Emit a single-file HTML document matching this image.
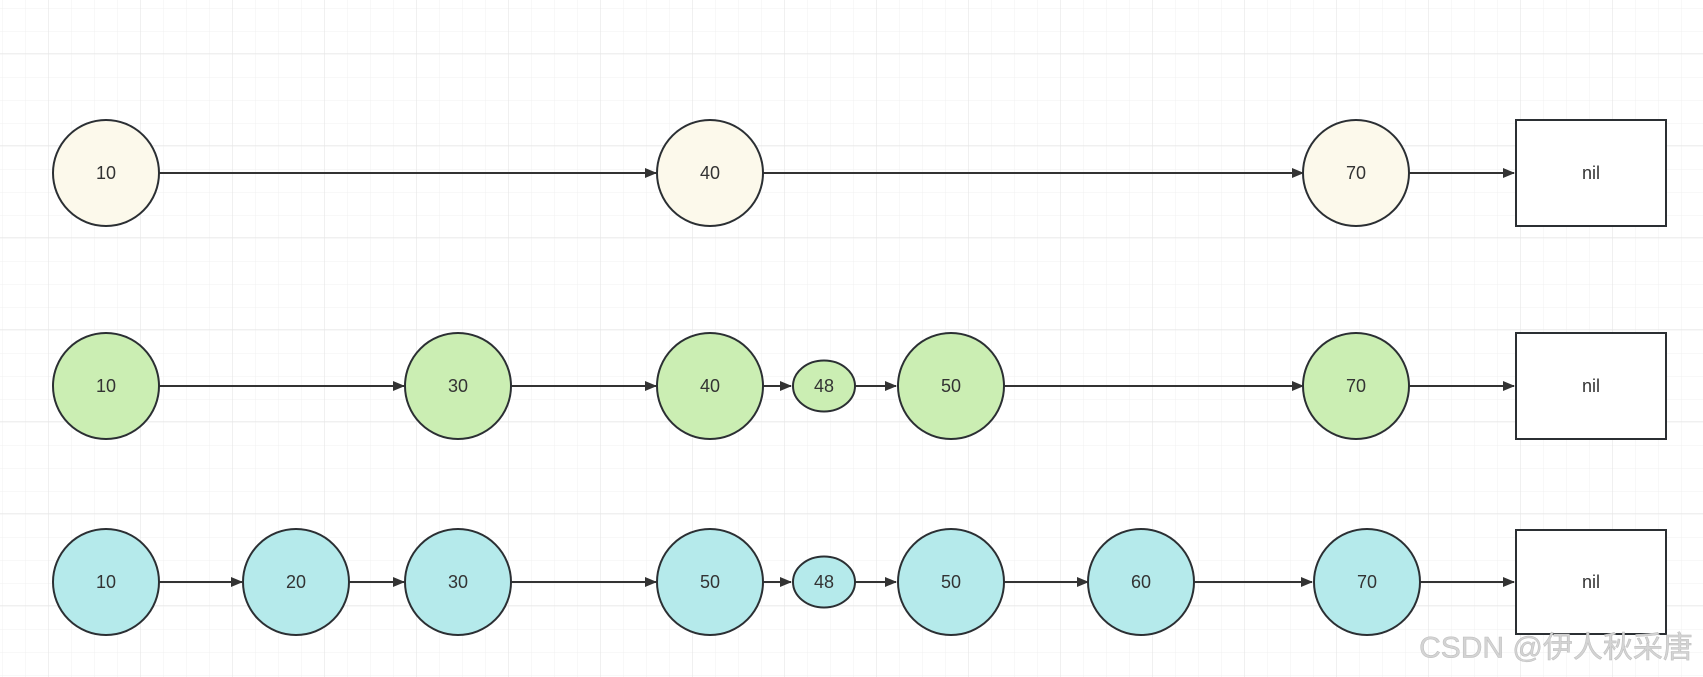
<!DOCTYPE html>
<html><head><meta charset="utf-8"><style>
html,body{margin:0;padding:0;background:#fff}
svg{display:block}
text{font-family:"Liberation Sans","Noto Sans CJK SC",sans-serif;font-size:18px;fill:#333;text-anchor:middle;dominant-baseline:central}
</style></head><body>
<svg width="1703" height="677" viewBox="0 0 1703 677" xmlns="http://www.w3.org/2000/svg">
<defs>
<pattern id="g" x="2" y="8" width="23" height="23" patternUnits="userSpaceOnUse">
<path d="M0 0H23M0 0V23" stroke="#f0f0f0" stroke-width="1" fill="none"/>
</pattern>
<pattern id="G" x="48" y="53" width="92" height="92" patternUnits="userSpaceOnUse">
<path d="M0 0H92M0 0V92" stroke="#e6e6e6" stroke-width="1.2" fill="none"/>
</pattern>
<marker id="a" markerWidth="12" markerHeight="10" refX="11" refY="5" orient="auto" markerUnits="userSpaceOnUse">
<path d="M0 0L12 5L0 10Z" fill="#333"/>
</marker>
</defs>
<rect width="1703" height="677" fill="url(#g)"/>
<rect width="1703" height="677" fill="url(#G)"/>
<g stroke="#333" stroke-width="2" fill="none" marker-end="url(#a)">
<!-- row1 -->
<line x1="159" y1="173" x2="656" y2="173"/>
<line x1="763" y1="173" x2="1303" y2="173"/>
<line x1="1409" y1="173" x2="1514" y2="173"/>
<!-- row2 -->
<line x1="159" y1="386" x2="404" y2="386"/>
<line x1="511" y1="386" x2="656" y2="386"/>
<line x1="763" y1="386" x2="791" y2="386"/>
<line x1="855" y1="386" x2="896" y2="386"/>
<line x1="1004" y1="386" x2="1303" y2="386"/>
<line x1="1409" y1="386" x2="1514" y2="386"/>
<!-- row3 -->
<line x1="159" y1="582" x2="242" y2="582"/>
<line x1="349" y1="582" x2="404" y2="582"/>
<line x1="511" y1="582" x2="656" y2="582"/>
<line x1="763" y1="582" x2="791" y2="582"/>
<line x1="855" y1="582" x2="896" y2="582"/>
<line x1="1004" y1="582" x2="1088" y2="582"/>
<line x1="1194" y1="582" x2="1312" y2="582"/>
<line x1="1419" y1="582" x2="1514" y2="582"/>
</g>
<g stroke="#2b2f33" stroke-width="2">
<circle cx="106" cy="173" r="53" fill="#fcf9eb"/>
<circle cx="710" cy="173" r="53" fill="#fcf9eb"/>
<circle cx="1356" cy="173" r="53" fill="#fcf9eb"/>
<rect x="1516" y="120" width="150" height="106" fill="#fff"/>

<circle cx="106" cy="386" r="53" fill="#cbeeb3"/>
<circle cx="458" cy="386" r="53" fill="#cbeeb3"/>
<circle cx="710" cy="386" r="53" fill="#cbeeb3"/>
<ellipse cx="824" cy="386" rx="31" ry="25.5" fill="#cbeeb3"/>
<circle cx="951" cy="386" r="53" fill="#cbeeb3"/>
<circle cx="1356" cy="386" r="53" fill="#cbeeb3"/>
<rect x="1516" y="333" width="150" height="106" fill="#fff"/>

<circle cx="106" cy="582" r="53" fill="#b5eaeb"/>
<circle cx="296" cy="582" r="53" fill="#b5eaeb"/>
<circle cx="458" cy="582" r="53" fill="#b5eaeb"/>
<circle cx="710" cy="582" r="53" fill="#b5eaeb"/>
<ellipse cx="824" cy="582" rx="31" ry="25.5" fill="#b5eaeb"/>
<circle cx="951" cy="582" r="53" fill="#b5eaeb"/>
<circle cx="1141" cy="582" r="53" fill="#b5eaeb"/>
<circle cx="1367" cy="582" r="53" fill="#b5eaeb"/>
<rect x="1516" y="530" width="150" height="104" fill="#fff"/>
</g>
<text x="106" y="173">10</text><text x="710" y="173">40</text><text x="1356" y="173">70</text><text x="1591" y="173">nil</text>
<text x="106" y="386">10</text><text x="458" y="386">30</text><text x="710" y="386">40</text><text x="824" y="386">48</text><text x="951" y="386">50</text><text x="1356" y="386">70</text><text x="1591" y="386">nil</text>
<text x="106" y="582">10</text><text x="296" y="582">20</text><text x="458" y="582">30</text><text x="710" y="582">50</text><text x="824" y="582">48</text><text x="951" y="582">50</text><text x="1141" y="582">60</text><text x="1367" y="582">70</text><text x="1591" y="582">nil</text>
<text x="1556" y="648" style="font-size:30px;fill:#d4d4d4;stroke:#bbb;stroke-width:0.5">CSDN @伊人秋采唐</text>
</svg>
</body></html>
